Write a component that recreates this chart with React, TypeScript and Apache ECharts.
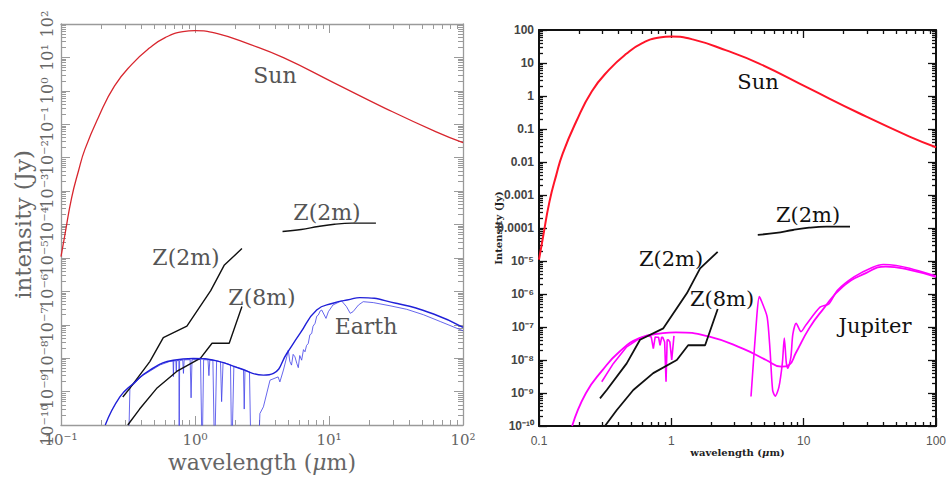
import React, { useEffect, useRef } from "react";
import * as echarts from "echarts";

// ---------------- data (wavelength in µm, intensity in Jy) ----------------
const sunWavelength = [0.1, 0.107, 0.12, 0.135, 0.151, 0.19, 0.251, 0.339, 0.457, 0.603, 0.813, 1.0, 1.45, 2.57, 4.57, 11.0, 26.3, 63.1, 100];
const sunIntensity = [1.1e-5, 5e-5, 6.3e-4, 4e-3, 0.018, 0.16, 1.4, 6.3, 19, 40, 59, 63, 52, 24.5, 9.8, 1.7, 0.3, 0.059, 0.028];

const z2mFarWavelength = [4.5, 6.2, 8.3, 11, 14.8, 22.4];
const z2mFarIntensity = [6.2e-5, 7.1e-5, 8.7e-5, 1.02e-4, 1.1e-4, 1.1e-4];

const z2mNearWavelength = [0.289, 0.325, 0.46, 0.58, 0.87, 1.31, 1.65, 2.24];
const z2mNearIntensity = [6.9e-10, 1.23e-9, 7.9e-9, 4.1e-8, 9.1e-8, 1.05e-6, 6e-6, 1.9e-5];

const z8mWavelength = [0.315, 0.386, 0.516, 0.73, 1.1, 1.34, 1.8, 2.24];
const z8mIntensity = [1e-10, 3e-10, 1.23e-9, 4e-9, 1e-8, 2.8e-8, 2.8e-8, 3.5e-7];

const earthModelWavelength = [0.214, 0.275, 0.347, 0.461, 0.689, 0.97, 1.45, 2.17, 3.24, 3.85, 4.84, 6.08, 8.09, 10.7, 14.4, 17, 31.6, 60.3, 100];
const earthModelIntensity = [1e-10, 6.9e-10, 1.74e-9, 4.4e-9, 8.7e-9, 9.8e-9, 8.3e-9, 4.9e-9, 3.1e-9, 3.5e-9, 1.38e-8, 5.5e-8, 2.75e-7, 4.4e-7, 5.75e-7, 6.5e-7, 4.4e-7, 2.1e-7, 8.3e-8];

const earthSpecWavelength = [
  0.318, 0.327, 0.347, 0.4, 0.461, 0.55, 0.65, 0.686, 0.69, 0.694, 0.72, 0.725, 0.73, 0.758, 0.762, 0.768,
  0.81, 0.82, 0.83, 0.92, 0.935, 0.95, 1.1, 1.13, 1.16, 1.25, 1.27, 1.29, 1.36, 1.4, 1.45, 1.55, 1.58, 1.62,
  1.84, 1.88, 1.95, 2.2, 2.3, 2.33, 2.36, 2.55, 2.62, 2.97, 3.05, 3.24, 3.63, 4.17, 4.3, 4.57, 4.84, 4.97,
  5.1, 5.25, 5.4, 5.57, 5.75, 5.9, 6.05, 6.25, 6.45, 6.62, 6.8, 7.0, 7.2, 7.43, 7.6, 7.87, 8.1, 8.32, 8.6,
  8.83, 9.5, 9.89, 10.7, 12.4, 13.5, 14.4, 15.1, 16.6, 18, 21.4, 28.5, 38, 50.6, 67.6, 100,
];
const earthSpecIntensity = [
  1e-11, 1.4e-9, 1.6e-9, 2.9e-9, 4.1e-9, 6.3e-9, 8e-9, 8.2e-9, 2.8e-9, 8.2e-9, 8.4e-9, 4e-9, 8.4e-9, 8.5e-9, 1e-11, 8.5e-9,
  8.8e-9, 3.5e-9, 8.9e-9, 9e-9, 6.5e-10, 9e-9, 9.1e-9, 1e-11, 9e-9, 8.9e-9, 3e-9, 8.8e-9, 8.6e-9, 1e-11, 8.3e-9, 7.8e-9, 5e-10, 7.5e-9,
  6.3e-9, 1e-11, 5.8e-9, 4.8e-9, 4.5e-9, 3e-10, 4.3e-9, 3.9e-9, 1e-11, 1e-11, 2.2e-10, 3.5e-10, 2.2e-9, 2.75e-9, 1.95e-9, 4.4e-9, 1.1e-8, 1.74e-8,
  8e-9, 6.2e-9, 1.3e-8, 1.1e-8, 7e-9, 5.2e-9, 1.2e-8, 8.7e-9, 1.8e-8, 1.55e-8, 2.4e-8, 2.75e-8, 5e-8, 5.5e-8, 9e-8, 1.1e-7, 1.8e-7, 1.95e-7, 2.6e-7,
  2.75e-7, 1.55e-7, 2.45e-7, 3.9e-7, 5.2e-7, 3.5e-7, 2.2e-7, 2.45e-7, 3.9e-7, 4.9e-7, 4.6e-7, 3.7e-7, 2.9e-7, 2e-7, 1.25e-7, 6.6e-8,
];

const jupiterModelWavelength = [0.178, 0.226, 0.303, 0.405, 0.573, 0.861, 1.08, 1.94, 3.47, 5.2, 6.76, 7.76, 8.7, 11, 13.9, 19.7, 29.5, 41.7, 63, 100];
const jupiterModelIntensity = [1e-10, 9.8e-10, 5e-9, 1.78e-8, 4.6e-8, 6.5e-8, 6.9e-8, 5.1e-8, 2.2e-8, 1e-8, 6.3e-9, 7.1e-9, 1.6e-8, 9.1e-8, 3.3e-7, 1.66e-6, 4.3e-6, 6.8e-6, 5.4e-6, 3.3e-6];

const jupiterOptWavelength = [0.298, 0.365, 0.46, 0.58, 0.67, 0.705, 0.731, 0.755, 0.776, 0.8, 0.822, 0.845, 0.861, 0.89, 0.912, 0.93, 0.948, 0.975, 1.007, 1.047];
const jupiterOptIntensity = [2.2e-9, 7.9e-9, 2.5e-8, 4.6e-8, 5.4e-8, 5e-8, 2.2e-8, 5e-8, 4.9e-8, 4.9e-8, 2.8e-8, 4.9e-8, 4.9e-8, 3.5e-8, 2.2e-9, 4e-8, 4.1e-8, 3.5e-8, 1e-8, 5.4e-8];

const jupiterIrWavelength = [4.0, 4.42, 4.62, 4.85, 5.3, 5.57, 5.83, 6.1, 6.5, 6.9, 7.14, 7.4, 7.59, 8.0, 8.28, 8.77, 9.55, 10.4, 13.3, 15.5, 18, 24, 33, 40, 50, 63, 100];
const jupiterIrIntensity = [7.8e-10, 2e-7, 8.3e-7, 5.5e-7, 2e-7, 2e-8, 1.2e-9, 8e-10, 1.5e-9, 8e-9, 4.6e-8, 8e-9, 5.6e-9, 1.2e-8, 6e-8, 1.3e-7, 7.2e-8, 1.15e-7, 4e-7, 5e-7, 1.3e-6, 3.3e-6, 6.4e-6, 7.8e-6, 7.3e-6, 6e-6, 3.5e-6];

// tick labels (indexed from the lowest decade)
const leftXTickLabels = ["10⁻¹", "10⁰", "10¹", "10²"];
const leftYTickLabels = ["10⁻¹⁰", "10⁻⁹", "10⁻⁸", "10⁻⁷", "10⁻⁶", "10⁻⁵", "10⁻⁴", "10⁻³", "10⁻²", "10⁻¹", "10⁰", "10¹", "10²"];
const rightXTickLabels = ["0.1", "1", "10", "100"];
const rightYTickLabels = ["10⁻¹⁰", "10⁻⁹", "10⁻⁸", "10⁻⁷", "10⁻⁶", "10⁻⁵", "0.0001", "0.001", "0.01", "0.1", "1", "10", "100"];

// ---------------- helpers ----------------
const X_MIN = -1, X_MAX = 2, Y_MIN = -10, Y_MAX = 2;
const toLog = (xs: number[], ys: number[]) => xs.map((x, i) => [Math.log10(x), Math.log10(ys[i])]);
const minorTicks = (lo: number, hi: number) => {
  const out: number[] = [];
  for (let d = lo; d < hi; d++) for (let k = 2; k < 10; k++) out.push(+(d + Math.log10(k)).toFixed(5));
  return out;
};
const decades = (lo: number, hi: number, parity: number) => {
  const out: number[] = [];
  for (let d = lo; d <= hi; d++) if (Math.abs(d % 2) === parity) out.push(d);
  return out;
};

type AxisStyle = { color: string; lineWidth: number; tickWidth: number; major: number; minor: number };

// splitLabels: spread the decade labels over two overlaid axes (even / odd decades)
function buildAxes(dim: "x" | "y", gridIndex: number, min: number, max: number, st: AxisStyle, label: any, nameOpts: any, splitLabels = false) {
  const p1 = dim === "x" ? "bottom" : "left";
  const p2 = dim === "x" ? "top" : "right";
  const base = { gridIndex, type: "value", min, max, interval: 1, splitLine: { show: false }, splitArea: { show: false } };
  const minor = minorTicks(min, max);
  const line = { show: true, onZero: false, lineStyle: { color: st.color, width: st.lineWidth } };
  const majorTick = { show: true, inside: true, length: st.major, lineStyle: { color: st.color, width: st.tickWidth } };
  const minorTick = { show: true, inside: true, length: st.minor, customValues: minor, lineStyle: { color: st.color, width: st.tickWidth } };
  const common = { showMinLabel: true, showMaxLabel: true, hideOverlap: false };
  const labelA = splitLabels ? { ...label, ...common, customValues: decades(min, max, 0) } : { ...label, ...common };
  const labelB = splitLabels ? { ...label, ...common, customValues: decades(min, max, 1) } : { show: false };
  return [
    { ...base, position: p1, axisLine: line, axisTick: majorTick, axisLabel: labelA, ...nameOpts },
    { ...base, position: p1, axisLine: { show: false, onZero: false }, axisTick: minorTick, axisLabel: labelB },
    { ...base, position: p2, axisLine: line, axisTick: majorTick, axisLabel: { show: false } },
    { ...base, position: p2, axisLine: { show: false, onZero: false }, axisTick: minorTick, axisLabel: { show: false } },
  ];
}

const SERIF = "DejaVu Serif";
const SANS = "Liberation Sans";

export default function App() {
  const ref = useRef<HTMLDivElement>(null);

  useEffect(() => {
    if (!ref.current) return;
    const chart = echarts.init(ref.current, undefined, { renderer: "svg" });

    const leftStyle: AxisStyle = { color: "#9a9a9a", lineWidth: 1.3, tickWidth: 1, major: 9, minor: 5 };
    const rightStyle: AxisStyle = { color: "#111", lineWidth: 2, tickWidth: 1.3, major: 8, minor: 4 };

    const leftXLabel = { show: true, margin: 7, color: "#666", fontFamily: SERIF, fontSize: 15, formatter: (v: number) => leftXTickLabels[Math.round(v) - X_MIN] };
    const leftYLabel = { show: true, margin: 6, rotate: 90, color: "#666", fontFamily: SERIF, fontSize: 16, formatter: (v: number) => leftYTickLabels[Math.round(v) - Y_MIN] };
    const rightXLabel = { show: true, margin: 9, color: "#555", fontFamily: SANS, fontSize: 12, formatter: (v: number) => rightXTickLabels[Math.round(v) - X_MIN] };
    const rightYLabel = { show: true, margin: 5, color: "#444", fontFamily: SANS, fontWeight: "bold", fontSize: 12, formatter: (v: number) => rightYTickLabels[Math.round(v) - Y_MIN] };

    const leftXName = {
      name: "wavelength ({i|μ}m)", nameLocation: "middle", nameGap: 26, nameMoveOverlap: false,
      nameTextStyle: { fontFamily: SERIF, fontSize: 22, color: "#666", rich: { i: { fontFamily: SERIF, fontSize: 22, color: "#666", fontStyle: "italic" } } },
    };
    const leftYName = {
      name: "intensity (Jy)", nameLocation: "middle", nameGap: 27, nameRotate: 90, nameMoveOverlap: false,
      nameTextStyle: { fontFamily: SERIF, fontSize: 23, color: "#666" },
    };
    const rightXName = {
      name: "wavelength ({i|μ}m)", nameLocation: "middle", nameGap: 21, nameMoveOverlap: false,
      nameTextStyle: { fontFamily: SERIF, fontWeight: "bold", fontSize: 10, color: "#222", rich: { i: { fontFamily: SERIF, fontWeight: "bold", fontSize: 10, color: "#222", fontStyle: "italic" } } },
    };
    const rightYName = {
      name: "Intensity (Jy)", nameLocation: "middle", nameGap: 36, nameRotate: 90, nameMoveOverlap: false,
      nameTextStyle: { fontFamily: SERIF, fontWeight: "bold", fontSize: 10, color: "#222" },
    };

    const xAxis = [
      ...buildAxes("x", 0, X_MIN, X_MAX, leftStyle, leftXLabel, leftXName),
      ...buildAxes("x", 1, X_MIN, X_MAX, rightStyle, rightXLabel, rightXName),
    ];
    const yAxis = [
      ...buildAxes("y", 0, Y_MIN, Y_MAX, leftStyle, leftYLabel, leftYName, true),
      ...buildAxes("y", 1, Y_MIN, Y_MAX, rightStyle, rightYLabel, rightYName),
    ];

    const line = (name: string, axis: number, data: number[][], color: string, width: number, smooth: boolean | number = false, z = 2) => ({
      name, type: "line", xAxisIndex: axis, yAxisIndex: axis, data, showSymbol: false, symbol: "none",
      smooth, clip: true, silent: true, z,
      lineStyle: { color, width }, itemStyle: { color },
    });

    const series = [
      // left panel: Sun, Earth, telescope limits
      line("Sun", 0, toLog(sunWavelength, sunIntensity), "#d8262e", 1.3, 0.5),
      line("Earth spectrum", 0, toLog(earthSpecWavelength, earthSpecIntensity), "#4040e8", 0.8, false),
      line("Earth", 0, toLog(earthModelWavelength, earthModelIntensity), "#2020d8", 1.4, 0.5, 3),
      line("Z(2m) far", 0, toLog(z2mFarWavelength, z2mFarIntensity), "#111", 1.4, 0.4),
      line("Z(2m)", 0, toLog(z2mNearWavelength, z2mNearIntensity), "#111", 1.4),
      line("Z(8m)", 0, toLog(z8mWavelength, z8mIntensity), "#111", 1.4),
      // right panel: Sun, Jupiter, telescope limits
      line("Sun", 4, toLog(sunWavelength, sunIntensity), "#ff1428", 2, 0.5),
      line("Jupiter", 4, toLog(jupiterModelWavelength, jupiterModelIntensity), "#ff00ff", 1.8, 0.5),
      line("Jupiter optical", 4, toLog(jupiterOptWavelength, jupiterOptIntensity), "#ff00ff", 1.6, false),
      line("Jupiter infrared", 4, toLog(jupiterIrWavelength, jupiterIrIntensity), "#ff00ff", 1.6, 0.25),
      line("Z(2m) far", 4, toLog(z2mFarWavelength, z2mFarIntensity), "#111", 1.8, 0.4),
      line("Z(2m)", 4, toLog(z2mNearWavelength, z2mNearIntensity), "#111", 1.8),
      line("Z(8m)", 4, toLog(z8mWavelength, z8mIntensity), "#111", 1.8),
    ];

    const label = (text: string, x: number, y: number, size: number, color: string) => ({
      type: "text", x, y, z: 100, silent: true,
      style: { text, fill: color, font: `${size}px "${SERIF}"`, textAlign: "center", textVerticalAlign: "middle", align: "center", verticalAlign: "middle" },
    });

    chart.setOption({
      animation: false,
      backgroundColor: "#ffffff",
      grid: [
        { left: 61, top: 24, width: 402, height: 401, containLabel: false, outerBoundsMode: "none" },
        { left: 539, top: 30, width: 397, height: 396, containLabel: false, outerBoundsMode: "none" },
      ],
      xAxis,
      yAxis,
      series,
      graphic: [
        label("Sun", 275, 75, 22, "#555"),
        label("Z(2m)", 327, 212, 22, "#555"),
        label("Z(2m)", 186, 257, 22, "#555"),
        label("Z(8m)", 262, 297, 22, "#555"),
        label("Earth", 366, 326, 22, "#555"),
        label("Sun", 758, 82, 21, "#111"),
        label("Z(2m)", 808, 215, 21, "#111"),
        label("Z(2m)", 671, 259, 21, "#111"),
        label("Z(8m)", 722, 299, 21, "#111"),
        label("Jupiter", 875, 326, 21, "#111"),
      ],
    });

    return () => chart.dispose();
  }, []);

  return <div ref={ref} style={{ position: "fixed", left: 0, top: 0, width: 946, height: 480 }} />;
}
